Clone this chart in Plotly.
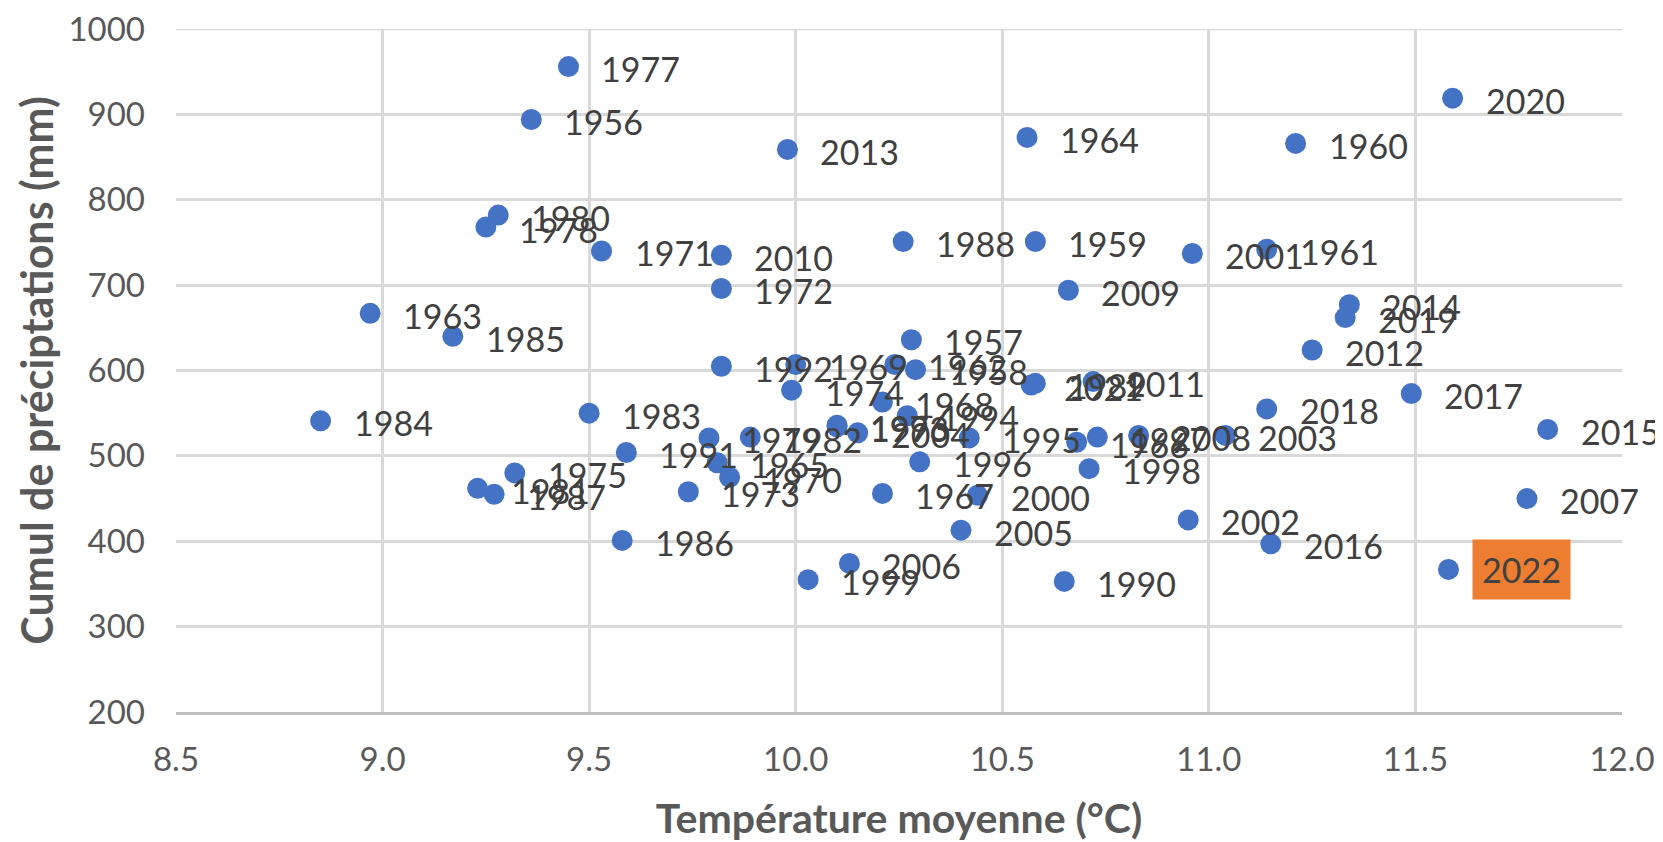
import plotly.graph_objects as go

years = list(range(1956, 2023))
temperature = [
    9.36, 10.28, 10.29, 10.58, 11.21, 11.14, 10.24, 8.97, 10.56, 9.81,   # 1956-1965
    10.68, 10.21, 10.21, 10.00, 9.84, 9.53, 9.82, 9.74, 9.99, 9.32,      # 1966-1975
    10.10, 9.45, 9.25, 9.79, 9.28, 9.23, 9.89, 9.50, 8.85, 9.17,         # 1976-1985
    9.58, 9.27, 10.26, 10.58, 10.65, 9.59, 9.82, 10.10, 10.27, 10.42,    # 1986-1995
    10.30, 10.73, 10.71, 10.03, 10.44, 10.96, 10.95, 11.04, 10.15, 10.40,  # 1996-2005
    10.13, 11.77, 10.83, 10.66, 9.82, 10.72, 11.25, 9.98, 11.34, 11.82,  # 2006-2015
    11.15, 11.49, 11.14, 11.33, 11.59, 10.57, 11.58,                     # 2016-2022
]
precipitation = [
    894, 636, 601, 751, 866, 742, 607, 667, 873, 492,
    516, 456, 563, 607, 475, 740, 696, 458, 577, 480,
    536, 956, 768, 521, 782, 462, 522, 550, 541, 640,
    401, 455, 751, 585, 353, 504, 605, 534, 547, 521,
    493, 522, 485, 355, 454, 737, 425, 524, 527, 413,
    374, 450, 524, 694, 735, 587, 624, 859, 677, 531,
    397, 573, 555, 662, 919, 583, 367,
]
highlight_year = 2022

x_ticks = [8.5, 9.0, 9.5, 10.0, 10.5, 11.0, 11.5, 12.0]
x_tick_text = ["8.5", "9.0", "9.5", "10.0", "10.5", "11.0", "11.5", "12.0"]
y_ticks = [200, 300, 400, 500, 600, 700, 800, 900, 1000]

FONT = "Lato, 'Open Sans', sans-serif"
LABEL_COLOR = "#404040"
TICK_COLOR = "#595959"
GRID = "#d9d9d9"

fig = go.Figure()
fig.add_trace(go.Scatter(
    x=temperature, y=precipitation, mode="markers",
    marker=dict(color="#4472C4", size=21, line=dict(width=0)),
    hoverinfo="skip", showlegend=False, cliponaxis=False,
))

annotations = []
for yr, tx, pr in zip(years, temperature, precipitation):
    if yr == highlight_year:
        annotations.append(dict(
            x=tx, y=pr, xref="x", yref="y", text=str(yr), showarrow=False,
            xanchor="left", yanchor="middle", xshift=24,
            font=dict(family=FONT, size=34, color=LABEL_COLOR),
            bgcolor="#ED7D31", borderpad=9,
        ))
    else:
        annotations.append(dict(
            x=tx, y=pr, xref="x", yref="y", text=str(yr), showarrow=False,
            xanchor="left", yanchor="middle", xshift=31, yshift=-2,
            font=dict(family=FONT, size=34, color=LABEL_COLOR),
        ))

fig.update_layout(
    width=1655, height=834,
    margin=dict(l=168, r=41, t=21, b=130),
    paper_bgcolor="white", plot_bgcolor="white",
    font=dict(family=FONT, color=TICK_COLOR),
    annotations=annotations,
    xaxis=dict(
        range=[8.5, 12.0], tickvals=x_ticks, ticktext=x_tick_text,
        showgrid=True, gridcolor=GRID, gridwidth=2.5, zeroline=False,
        showline=True, linecolor="#bfbfbf", linewidth=3,
        ticks="", ticklabelstandoff=16, ticklabeloverflow="allow",
        tickfont=dict(family=FONT, size=33, color=TICK_COLOR),
        title=dict(text="<b>Température moyenne (°C)</b>", standoff=30,
                   font=dict(family=FONT, size=41, color=TICK_COLOR)),
        automargin=False,
    ),
    yaxis=dict(
        range=[200, 1000], tickvals=y_ticks,
        showgrid=True, gridcolor=GRID, gridwidth=2.5, zeroline=False,
        showline=False, ticks="", ticklabelstandoff=30, ticklabeloverflow="allow",
        tickfont=dict(family=FONT, size=33, color=TICK_COLOR),
        title=dict(text="<b>Cumul de préciptations (mm)</b>", standoff=1,
                   font=dict(family=FONT, size=43, color=TICK_COLOR)),
        automargin=False,
    ),
    shapes=[dict(type="line", xref="paper", yref="y", x0=0, x1=1, y0=1000, y1=1000,
                 line=dict(color=GRID, width=2.5), layer="below")],
)

fig.write_html("out.html")
